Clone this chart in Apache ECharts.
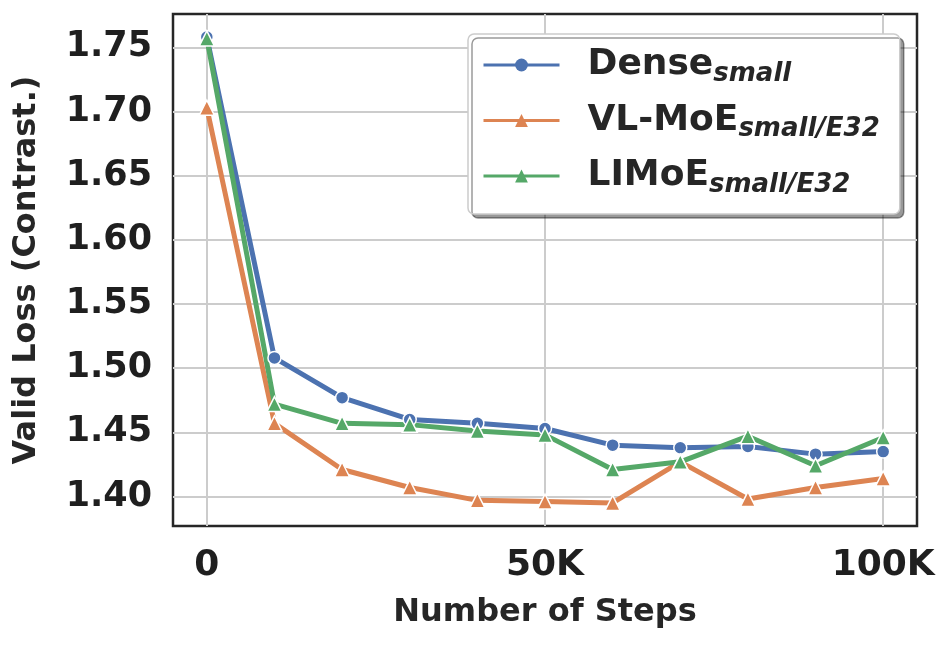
<!DOCTYPE html>
<html>
<head>
<meta charset="utf-8">
<script src="https://cdn.jsdelivr.net/npm/echarts@6/dist/echarts.min.js"></script>
<style>
  html, body { margin: 0; padding: 0; background: #fff; }
  #chart { width: 951px; height: 645px; }
</style>
</head>
<body>
<div id="chart"></div>
<script>
// training steps
var steps = [0, 10000, 20000, 30000, 40000, 50000, 60000, 70000, 80000, 90000, 100000];

// valid loss
var denseSmall = [1.758, 1.508, 1.477, 1.460, 1.457, 1.453, 1.440, 1.438, 1.439, 1.433, 1.435];
var vlmoeSmall = [1.703, 1.457, 1.421, 1.407, 1.397, 1.396, 1.395, 1.427, 1.398, 1.407, 1.414];
var limoeSmall = [1.757, 1.472, 1.457, 1.456, 1.451, 1.448, 1.421, 1.427, 1.447, 1.424, 1.446];

var xTicks = [0, 50000, 100000];
var yTicks = [1.40, 1.45, 1.50, 1.55, 1.60, 1.65, 1.70, 1.75];

var seriesNames = ['Dense', 'VL-MoE', 'LIMoE'];
var seriesSubs = ['small', 'small/E32', 'small/E32'];

var textColor = '#262626';
var font = 'DejaVu Sans';

function pairs(ys) {
    return steps.map(function (s, i) { return [s, ys[i]]; });
}

function makeSeries(name, ys, color, symbol) {
    return {
        name: name,
        type: 'line',
        data: pairs(ys),
        symbol: symbol,
        symbolSize: symbol === 'circle' ? 13 : 15,
        showAllSymbol: true,
        lineStyle: {color: color, width: 5},
        itemStyle: {color: color, borderColor: '#fff', borderWidth: 1.5},
        emphasis: {disabled: true},
        animation: false
    };
}

var myChart = echarts.init(document.getElementById('chart'));

var option = {
    backgroundColor: '#fff',
    textStyle: {fontFamily: font},
    grid: {
        left: 173, right: 34, top: 14, bottom: 119,
        show: true,
        borderColor: '#262626',
        borderWidth: 2.5,
        backgroundColor: '#fff'
    },
    legend: {
        orient: 'vertical',
        left: 468,
        top: 34,
        padding: [13, 20, 16, 14],
        itemGap: 15.5,
        itemWidth: 76,
        itemHeight: 16,
        backgroundColor: '#fff',
        borderColor: '#cccccc',
        borderWidth: 1.5,
        borderRadius: 6,
        shadowColor: 'rgba(0,0,0,0.4)',
        shadowBlur: 0,
        shadowOffsetX: 4,
        shadowOffsetY: 4,
        lineStyle: {width: 3},
        itemStyle: {borderWidth: 0},
        data: seriesNames,
        formatter: function (name) {
            var i = seriesNames.indexOf(name);
            return '{m|' + name + '}{s|' + seriesSubs[i] + '}';
        },
        textStyle: {
            padding: [0, 0, 0, 23],
            rich: {
                m: {fontFamily: font, fontWeight: 'bold', fontSize: 36, color: textColor, lineHeight: 44},
                s: {fontFamily: font, fontWeight: 'bold', fontStyle: 'italic', fontSize: 26, color: textColor,
                    lineHeight: 24, verticalAlign: 'bottom'}
            }
        }
    },
    xAxis: {
        type: 'value',
        min: -5000,
        max: 105000,
        name: 'Number of Steps',
        nameLocation: 'middle',
        nameGap: 71,
        nameTextStyle: {fontFamily: font, fontWeight: 'bold', fontSize: 32, color: textColor},
        axisLine: {show: false},
        axisTick: {show: false, customValues: xTicks},
        axisLabel: {
            customValues: xTicks,
            margin: 22,
            fontFamily: font,
            fontWeight: 'bold',
            fontSize: 36,
            color: '#1f1f1f',
            formatter: function (v) { return v === 0 ? '0' : (v / 1000) + 'K'; }
        },
        splitLine: {show: true, lineStyle: {color: '#cccccc', width: 2}}
    },
    yAxis: {
        type: 'value',
        min: 1.377,
        max: 1.776,
        name: 'Valid Loss (Contrast.)',
        nameLocation: 'middle',
        nameGap: 130,
        nameTextStyle: {fontFamily: font, fontWeight: 'bold', fontSize: 32, color: textColor},
        axisLine: {show: false},
        axisTick: {show: false, customValues: yTicks},
        axisLabel: {
            customValues: yTicks,
            margin: 21,
            fontFamily: font,
            fontWeight: 'bold',
            fontSize: 35,
            color: '#1f1f1f',
            formatter: function (v) { return v.toFixed(2); }
        },
        splitLine: {show: true, lineStyle: {color: '#cccccc', width: 2}}
    },
    series: [
        makeSeries('Dense', denseSmall, '#4C72B0', 'circle'),
        makeSeries('VL-MoE', vlmoeSmall, '#DD8452', 'triangle'),
        makeSeries('LIMoE', limoeSmall, '#55A868', 'triangle')
    ]
};

myChart.setOption(option);
</script>
</body>
</html>
